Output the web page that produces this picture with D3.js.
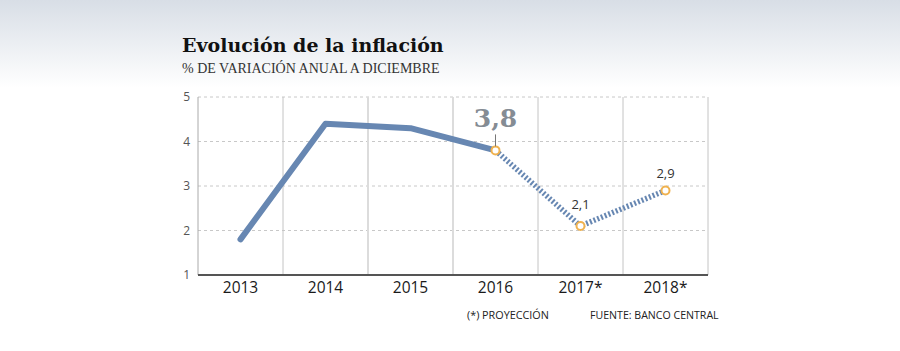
<!DOCTYPE html>
<html>
<head>
<meta charset="utf-8">
<script src="https://cdn.jsdelivr.net/npm/d3@7"></script>
<style>
    body { margin: 0; }
    svg { display: block; }
</style>
</head>
<body>
<div id="chart"></div>
<script>
// data
var years = ["2013", "2014", "2015", "2016", "2017*", "2018*"];
var inflation = [1.8, 4.4, 4.3, 3.8, 2.1, 2.9];
var projected = [false, false, false, false, true, true];
var yTicks = [1, 2, 3, 4, 5];
var labels = [null, null, null, "3,8", "2,1", "2,9"];

var width = 900, height = 351;
var margin = { top: 97, right: 192, bottom: 76, left: 198 };
var w = width - margin.left - margin.right;
var h = height - margin.top - margin.bottom;

var svgContainer = d3.select("#chart").append("svg")
    .attr("width", width)
    .attr("height", height);

//background gradient
var defs = svgContainer.append("defs");
var grad = defs.append("linearGradient")
    .attr("id", "bg")
    .attr("x1", 0).attr("y1", 0)
    .attr("x2", 0).attr("y2", 1);
grad.append("stop").attr("offset", "0%").attr("stop-color", "#d8dee6");
grad.append("stop").attr("offset", "25%").attr("stop-color", "#ffffff");
svgContainer.append("rect")
    .attr("width", width)
    .attr("height", height)
    .attr("fill", "url(#bg)");

// title
svgContainer.append("text")
    .attr("x", 182)
    .attr("y", 52)
    .attr("font-family", "DejaVu Serif")
    .attr("font-weight", "bold")
    .attr("font-size", 19)
    .attr("fill", "#111")
    .text("Evolución de la inflación");
svgContainer.append("text")
    .attr("x", 182)
    .attr("y", 73)
    .attr("font-family", "Liberation Serif")
    .attr("font-size", 14)
    .attr("fill", "#333")
    .text("% DE VARIACIÓN ANUAL A DICIEMBRE");

var svg = svgContainer.append("g")
    .attr("transform", "translate(" + margin.left + "," + margin.top + ")");

var x = d3.scaleBand().domain(years).range([0, w]);
var y = d3.scaleLinear().domain([1, 5]).range([h, 0]);

// horizontal grid
svg.selectAll(".hgrid")
    .data(yTicks.slice(1))
    .enter().append("line")
    .attr("x1", 0).attr("x2", w)
    .attr("y1", d => y(d)).attr("y2", d => y(d))
    .attr("stroke", "#c8c8c8")
    .attr("stroke-dasharray", "3,3");

// vertical grid (the two middle-left ones are drawn wider and lighter)
svg.selectAll(".vgrid")
    .data(years.slice(1).concat(["end"]))
    .enter().append("line")
    .attr("x1", (d, i) => x.step() * (i + 1))
    .attr("x2", (d, i) => x.step() * (i + 1))
    .attr("y1", 0).attr("y2", h)
    .attr("stroke", (d, i) => (i === 1 || i === 2) ? "#dcdcdc" : "#c4c4c4")
    .attr("stroke-width", (d, i) => (i === 1 || i === 2) ? 2 : 1);

// left axis
svg.append("line")
    .attr("x1", 0).attr("x2", 0)
    .attr("y1", 0).attr("y2", h)
    .attr("stroke", "#aaa");
svg.selectAll(".ylab")
    .data(yTicks)
    .enter().append("text")
    .attr("x", -8)
    .attr("y", d => y(d) + 4)
    .attr("text-anchor", "end")
    .attr("font-family", "Open Sans")
    .attr("font-size", 12)
    .attr("fill", "#555")
    .text(d => d);

// bottom axis
svg.append("line")
    .attr("x1", 0).attr("x2", w)
    .attr("y1", h).attr("y2", h)
    .attr("stroke", "#555")
    .attr("stroke-width", 2);
svg.selectAll(".xlab")
    .data(years)
    .enter().append("text")
    .attr("x", d => x(d) + x.bandwidth() / 2)
    .attr("y", h + 18)
    .attr("text-anchor", "middle")
    .attr("font-family", "Open Sans")
    .attr("font-size", 15.5)
    .attr("fill", "#1a1a1a")
    .text(d => d);

var pts = years.map((d, i) => [x(d) + x.bandwidth() / 2, y(inflation[i]), projected[i]]);
var line = d3.line().x(d => d[0]).y(d => d[1]);

// real values
svg.append("path")
    .attr("d", line(pts.filter(d => !d[2])))
    .attr("stroke", "#6787b2")
    .attr("stroke-width", 6)
    .attr("stroke-linejoin", "round")
    .attr("stroke-linecap", "round")
    .attr("fill", "none");

// projection
var lastReal = projected.indexOf(true) - 1;
svg.append("path")
    .attr("d", line(pts.slice(lastReal)))
    .attr("stroke", "#6787b2")
    .attr("stroke-width", 5.5)
    .attr("stroke-dasharray", "2,2")
    .attr("fill", "none");

// points
svg.selectAll(".pt")
    .data(pts.slice(lastReal))
    .enter().append("circle")
    .attr("cx", d => d[0])
    .attr("cy", d => d[1])
    .attr("r", 4)
    .attr("fill", "#fff")
    .attr("stroke", "#f0b24f")
    .attr("stroke-width", 2);

// labels
pts.forEach(function (d, i) {
    if (!labels[i]) return;
    if (i === lastReal) {
        svg.append("line")
            .attr("x1", d[0]).attr("x2", d[0])
            .attr("y1", d[1] - 16).attr("y2", d[1] - 4)
            .attr("stroke", "#777");
        svg.append("text")
            .attr("x", d[0])
            .attr("y", d[1] - 23)
            .attr("text-anchor", "middle")
            .attr("font-family", "DejaVu Serif")
            .attr("font-weight", "bold")
            .attr("font-size", 25)
            .attr("fill", "#858c94")
            .text(labels[i]);
    } else {
        // low point label sits a bit higher to clear the V
        var isMin = inflation[i] === d3.min(inflation.slice(lastReal));
        svg.append("text")
            .attr("x", d[0])
            .attr("y", d[1] - (isMin ? 17 : 12))
            .attr("text-anchor", "middle")
            .attr("font-family", "Open Sans")
            .attr("font-size", 13)
            .attr("fill", "#333")
            .text(labels[i]);
    }
});

// footer
svgContainer.append("text")
    .attr("x", 467)
    .attr("y", 319)
    .attr("font-family", "Open Sans")
    .attr("font-size", 10.8)
    .attr("fill", "#222")
    .text("(*) PROYECCIÓN");
svgContainer.append("text")
    .attr("x", 590)
    .attr("y", 319)
    .attr("font-family", "Open Sans")
    .attr("font-size", 10.6)
    .attr("fill", "#222")
    .text("FUENTE: BANCO CENTRAL");
</script>
</body>
</html>
